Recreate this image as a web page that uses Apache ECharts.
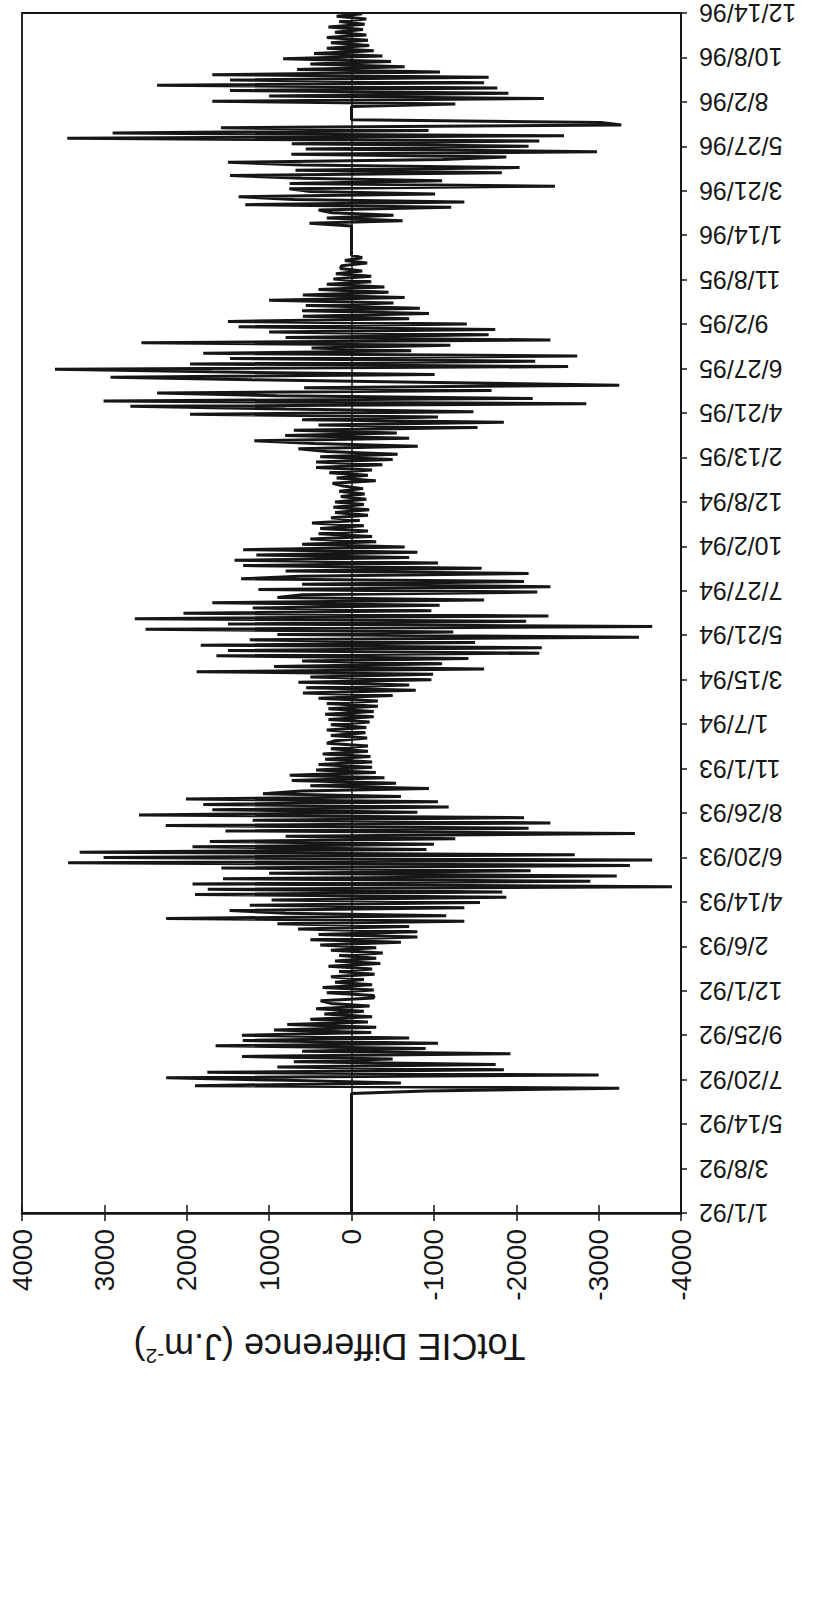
<!DOCTYPE html>
<html>
<head>
<meta charset="utf-8">
<script src="https://cdn.jsdelivr.net/npm/echarts@6/dist/echarts.min.js"></script>
<style>
html,body{margin:0;padding:0;background:#fff;}
#chart{width:813px;height:1612px;}
</style>
</head>
<body>
<div id="chart"></div>
<script>
// Date tick labels (every 67 days from 1/1/92)
const dateLabels = ['1/1/92','3/8/92','5/14/92','7/20/92','9/25/92','12/1/92','2/6/93','4/14/93','6/20/93','8/26/93','11/1/93','1/7/94','3/15/94','5/21/94','7/27/94','10/2/94','12/8/94','2/13/95','4/21/95','6/27/95','9/2/95','11/8/95','1/14/96','3/21/96','5/27/96','8/2/96','10/8/96','12/14/96'];
const tickDays = 67;
const totalDays = 1809;
// value ticks
const valueTicks = [-4000,-3000,-2000,-1000,0,1000,2000,3000,4000];
// TotCIE difference, one reading every 4 days starting 1/1/92
const dayStep = 4;
const totcieDiff = [
/*0*/   0,0,0,0,0,0,0,0,0,0, 0,0,0,0,0,0,0,0,0,0,
/*20*/  0,0,0,0,0,0,0,0,0,0, 0,0,0,0,0,0,0,0,0,0,
/*40*/  0,0,0,0,0,0,-900,-3250,1900,-600, 800,2250,-3000,1750,-1850,900,-1750,700,-500,1330,
/*60*/  -1930,600,-900,1650,-1050,1320,-700,1330,-240,940, -300,780,-200,500,-250,330,-150,430,-220,250,
/*80*/  375,-270,-270,300,-270,350,-250,200,-150,250, -280,150,-250,280,-350,200,-300,150,-380,250,
/*100*/ -300,380,-600,500,-800,400,-800,650,-700,900, -1370,2250,-1150,800,1480,-1370,1235,-1560,970,-1880,
/*120*/ 1900,-1830,1745,-3890,1930,-2900,1560,-3220,1000,-2175, 1580,-3380,3440,-3650,3010,-2710,3300,-910,1930,-1000,
/*140*/ 1720,-1260,800,-3440,1530,-2150,2255,-2415,1200,-2095, 2580,-800,1690,-1180,1800,-1050,2010,-600,1075,600,
/*160*/ -940,500,-540,725,-400,750,-295,430,-250,400, -250,320,-230,350,-200,250,-200,300,200,-190,
/*180*/ 250,-170,300,-180,250,-220,280,-270,320,-270, 280,-320,300,-320,400,-500,590,-780,550,-700,
/*200*/ 645,-970,500,-990,1880,-1610,940,-1100,600,-1420, 1640,-2280,1500,-2310,1830,-1500,1235,-3490,900,-1235,
/*220*/ 2500,-3650,1500,-2120,2630,-2390,2040,-970,1200,-1070, 1690,-1610,900,600,-2255,1130,-2415,600,-2095,1340,
/*240*/ 635,-2150,800,-1580,1315,-1050,1420,-700,1155,-800, 1315,-645,600,-300,500,-250,400,-200,380,-150,
/*260*/ 480,-100,250,-200,200,-215,220,-150,200,-180, 130,-160,150,-140,100,230,-295,180,-200,270,
/*280*/ -250,430,-375,430,-500,380,-560,300,645,-805, 450,1180,-700,805,-550,700,-1530,400,-1850,600,
/*300*/ -1050,1960,-1480,800,2685,-2850,3010,-2200,900,2360, -1700,575,-3250,-1030,1200,2925,-1010,1700,3600,-2630,
/*320*/ 1960,-2230,1475,-2740,1800,-725,485,-1200,2550,-2415, 800,-1665,1000,-1745,1370,-1400,1500,-700,590,-940,
/*340*/ 600,-830,555,-510,1000,-645,590,-450,400,-400, 300,-240,220,-240,190,-130,135,120,-190,80,
/*360*/ -130,0,0,0,0,0,0,0,0,0, 0,0,0,510,-620,300,-510,240,400,-1210,
/*380*/ 1290,-1370,700,1370,-1015,500,755,-2470,750,-1100, 600,1475,-1825,680,-2040,600,1500,-1110,-1880,730,
/*400*/ -2980,555,-2150,725,-2280,3450,-2580,2900,-935,1585, -3275,-3030,0,0,0,0,0,0,-1260,1690,
/*420*/ -2335,1000,-1905,1475,-1770,2360,-1610,1475,-1665,1690, -1075,660,-645,500,-480,830,-375,455,-270,300,
/*440*/ -215,250,-200,300,-180,200,-140,280,-160,150, -180,180,-130
];

const seriesData = totcieDiff.map((v, i) => [v, i * dayStep]);
const FONT = "'Liberation Sans', Arial, sans-serif";
const INK = '#161616';

const chart = echarts.init(document.getElementById('chart'), null, {renderer: 'svg'});
const valueAxisBase = {
  type: 'value',
  min: valueTicks[0],
  max: valueTicks[valueTicks.length - 1],
  interval: 1000,
  inverse: true,
  position: 'bottom',
  splitLine: {show: false}
};
chart.setOption({
  animation: false,
  backgroundColor: '#ffffff',
  grid: {left: 22, right: 132, top: 13, bottom: 399, show: true, borderColor: INK, borderWidth: 1.8, containLabel: false},
  xAxis: [
    Object.assign({}, valueAxisBase, {
      axisLine: {show: true, lineStyle: {color: INK, width: 2.5}},
      axisTick: {show: true, length: 8, lineStyle: {color: INK, width: 1.5}},
      axisLabel: {show: true, rotate: 90, margin: 16, fontSize: 28, color: INK, fontFamily: FONT,
        formatter: v => String(v)},
      name: '{a|TotCIE Difference (J.m}{s|-2}{a|)}',
      nameLocation: 'middle',
      nameRotate: 180,
      nameGap: 112,
      nameTextStyle: {
        color: INK, fontFamily: FONT,
        padding: [0, 0, 0, 44],
        rich: {
          a: {fontSize: 36, lineHeight: 42, color: INK, fontFamily: FONT},
          s: {fontSize: 21, lineHeight: 24, verticalAlign: 'top', color: INK, fontFamily: FONT}
        }
      }
    }),
    Object.assign({}, valueAxisBase, {
      axisLine: {show: false},
      axisTick: {show: true, inside: true, length: 8, lineStyle: {color: INK, width: 1.5}},
      axisLabel: {show: false}
    })
  ],
  yAxis: {
    type: 'value',
    position: 'right',
    min: 0,
    max: totalDays,
    interval: tickDays,
    splitLine: {show: false},
    axisLine: {show: true, onZero: false, lineStyle: {color: INK, width: 1.8}},
    axisTick: {show: true, length: 6, lineStyle: {color: INK, width: 1.5}},
    axisLabel: {
      show: true, rotate: 180, margin: 18, fontSize: 25, color: INK, fontFamily: FONT,
      formatter: v => dateLabels[Math.round(v / tickDays)] || ''
    }
  },
  series: [{
    type: 'line',
    xAxisIndex: 0,
    yAxisIndex: 0,
    data: seriesData,
    showSymbol: false,
    symbol: 'none',
    lineStyle: {color: INK, width: 3},
    silent: true,
    markLine: {
      silent: true,
      symbol: 'none',
      label: {show: false},
      lineStyle: {color: INK, width: 1.5, type: 'solid'},
      data: [{xAxis: 0}]
    }
  }]
});
</script>
</body>
</html>
